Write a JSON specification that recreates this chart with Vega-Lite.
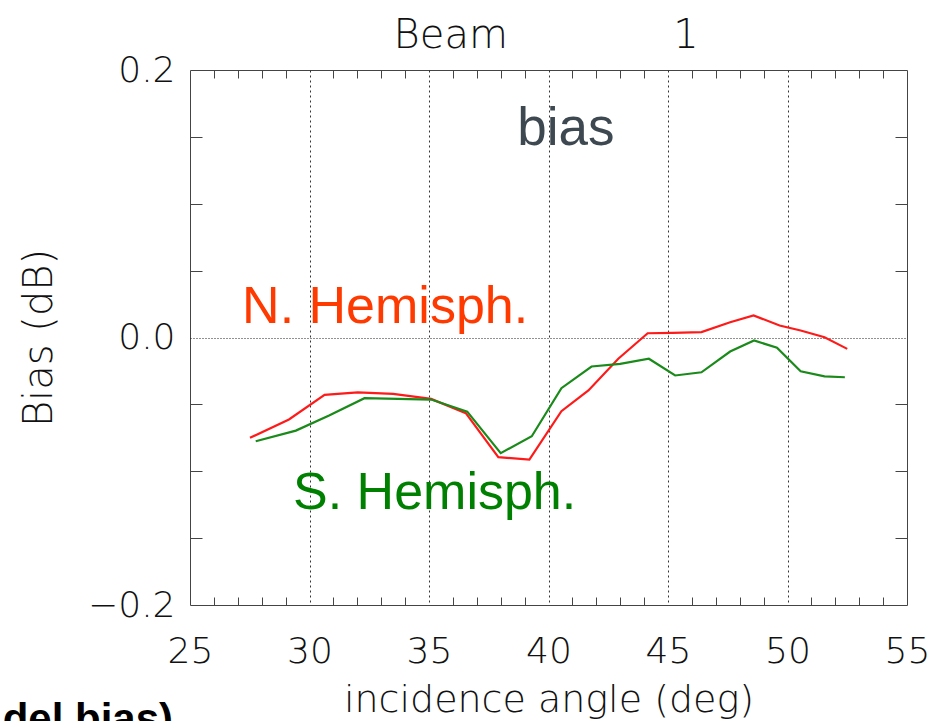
{
  "$schema": "https://vega.github.io/schema/vega-lite/v6.json",
  "autosize": "none",
  "width": 717,
  "height": 535,
  "padding": {"left": 190, "top": 70, "right": 27, "bottom": 116},
  "background": "white",
  "config": {
    "view": {"stroke": "#444444", "strokeWidth": 1},
    "axis": {"domain": false, "labelOverlap": false, "labelFlush": false}
  },
  "layer": [
    {
      "data": {
        "values": [
          {"angle": 27.51, "bias": -0.075, "hemisphere": "N"},
          {"angle": 29.14, "bias": -0.0613, "hemisphere": "N"},
          {"angle": 30.63, "bias": -0.0429, "hemisphere": "N"},
          {"angle": 32.02, "bias": -0.0411, "hemisphere": "N"},
          {"angle": 33.5, "bias": -0.0421, "hemisphere": "N"},
          {"angle": 35.09, "bias": -0.0459, "hemisphere": "N"},
          {"angle": 36.54, "bias": -0.0566, "hemisphere": "N"},
          {"angle": 37.9, "bias": -0.0895, "hemisphere": "N"},
          {"angle": 39.2, "bias": -0.0913, "hemisphere": "N"},
          {"angle": 40.54, "bias": -0.0551, "hemisphere": "N"},
          {"angle": 41.67, "bias": -0.0396, "hemisphere": "N"},
          {"angle": 42.92, "bias": -0.0159, "hemisphere": "N"},
          {"angle": 44.15, "bias": 0.0032, "hemisphere": "N"},
          {"angle": 45.2, "bias": 0.0035, "hemisphere": "N"},
          {"angle": 46.4, "bias": 0.004, "hemisphere": "N"},
          {"angle": 47.6, "bias": 0.0114, "hemisphere": "N"},
          {"angle": 48.58, "bias": 0.0165, "hemisphere": "N"},
          {"angle": 49.67, "bias": 0.009, "hemisphere": "N"},
          {"angle": 50.55, "bias": 0.0052, "hemisphere": "N"},
          {"angle": 51.55, "bias": 0.0002, "hemisphere": "N"},
          {"angle": 52.5, "bias": -0.0085, "hemisphere": "N"},
          {"angle": 27.75, "bias": -0.0776, "hemisphere": "S"},
          {"angle": 29.43, "bias": -0.0696, "hemisphere": "S"},
          {"angle": 30.82, "bias": -0.0583, "hemisphere": "S"},
          {"angle": 32.3, "bias": -0.0454, "hemisphere": "S"},
          {"angle": 33.7, "bias": -0.0459, "hemisphere": "S"},
          {"angle": 35.09, "bias": -0.0464, "hemisphere": "S"},
          {"angle": 36.6, "bias": -0.0554, "hemisphere": "S"},
          {"angle": 38.0, "bias": -0.0865, "hemisphere": "S"},
          {"angle": 39.3, "bias": -0.0738, "hemisphere": "S"},
          {"angle": 40.54, "bias": -0.0379, "hemisphere": "S"},
          {"angle": 41.8, "bias": -0.0217, "hemisphere": "S"},
          {"angle": 43.0, "bias": -0.0197, "hemisphere": "S"},
          {"angle": 44.2, "bias": -0.0159, "hemisphere": "S"},
          {"angle": 45.3, "bias": -0.0284, "hemisphere": "S"},
          {"angle": 46.4, "bias": -0.026, "hemisphere": "S"},
          {"angle": 47.6, "bias": -0.0105, "hemisphere": "S"},
          {"angle": 48.6, "bias": -0.0022, "hemisphere": "S"},
          {"angle": 49.56, "bias": -0.0077, "hemisphere": "S"},
          {"angle": 50.55, "bias": -0.0252, "hemisphere": "S"},
          {"angle": 51.55, "bias": -0.029, "hemisphere": "S"},
          {"angle": 52.4, "bias": -0.0297, "hemisphere": "S"}
        ]
      },
      "mark": {"type": "line", "strokeWidth": 2.2, "clip": true},
      "encoding": {
        "x": {
          "field": "angle", "type": "quantitative",
          "scale": {"domain": [25, 55], "nice": false, "zero": false},
          "axis": {
            "orient": "bottom",
            "values": [25,26,27,28,29,30,31,32,33,34,35,36,37,38,39,40,41,42,43,44,45,46,47,48,49,50,51,52,53,54,55],
            "format": "d",
            "labelExpr": "datum.value % 5 === 0 ? datum.label : ''",
            "labelFont": "DejaVu Sans", "labelFontWeight": 200, "labelFontSize": 36, "labelColor": "#111111",
            "labelPadding": 37,
            "tickSize": -8, "tickColor": "#444444", "tickWidth": 1,
            "tickOpacity": {"condition": {"test": "datum.value % 5 === 0", "value": 0}, "value": 1},
            "grid": true, "gridColor": "#333333", "gridDash": [2, 3], "gridWidth": 1,
            "gridOpacity": {"condition": {"test": "datum.value % 5 === 0 && datum.value > 25 && datum.value < 55", "value": 1}, "value": 0},
            "title": "incidence angle (deg)",
            "titleFont": "DejaVu Sans", "titleFontWeight": 200, "titleFontSize": 38, "titleColor": "#111111",
            "titlePadding": 12
          }
        },
        "y": {
          "field": "bias", "type": "quantitative",
          "scale": {"domain": [-0.2, 0.2], "nice": false, "zero": false},
          "axis": {
            "orient": "left",
            "values": [-0.2, -0.15, -0.1, -0.05, 0, 0.05, 0.1, 0.15, 0.2],
            "format": ".1f",
            "labelExpr": "abs(datum.value) > 0.19 || abs(datum.value) < 0.001 ? datum.label : ''",
            "labelFont": "DejaVu Sans", "labelFontWeight": 200, "labelFontSize": 36, "labelColor": "#111111",
            "labelPadding": 27,
            "tickSize": -12, "tickColor": "#444444", "tickWidth": 1,
            "tickOpacity": {"condition": {"test": "abs(datum.value) < 0.001 || abs(datum.value) > 0.19", "value": 0}, "value": 1},
            "grid": true, "gridColor": "#222222", "gridDash": [1, 2], "gridWidth": 1,
            "gridOpacity": {"condition": {"test": "abs(datum.value) < 0.001", "value": 1}, "value": 0},
            "title": "Bias (dB)",
            "titleFont": "DejaVu Sans", "titleFontWeight": 200, "titleFontSize": 40, "titleColor": "#111111",
            "titlePadding": 28
          }
        },
        "color": {
          "field": "hemisphere", "type": "nominal",
          "scale": {"domain": ["N", "S"], "range": ["#ff1a1a", "#1a8a1a"]},
          "legend": null
        }
      }
    },
    {
      "data": {"values": [{"angle": 40.73, "bias": 0.1436, "label": "bias"}]},
      "mark": {"type": "text", "font": "Liberation Sans", "fontSize": 53, "color": "#3d4850", "align": "center", "baseline": "alphabetic"},
      "encoding": {
        "x": {
          "field": "angle", "type": "quantitative",
          "axis": {
            "orient": "top",
            "values": [25,26,27,28,29,30,31,32,33,34,35,36,37,38,39,40,41,42,43,44,45,46,47,48,49,50,51,52,53,54,55],
            "labels": false, "grid": false, "title": null,
            "tickSize": -8, "tickColor": "#444444", "tickWidth": 1,
            "tickOpacity": {"condition": {"test": "datum.value % 5 === 0", "value": 0}, "value": 1}
          }
        },
        "y": {
          "field": "bias", "type": "quantitative",
          "axis": {
            "orient": "right",
            "values": [-0.2, -0.15, -0.1, -0.05, 0, 0.05, 0.1, 0.15, 0.2],
            "labels": false, "grid": false, "title": null,
            "tickSize": -12, "tickColor": "#444444", "tickWidth": 1,
            "tickOpacity": {"condition": {"test": "abs(datum.value) < 0.001 || abs(datum.value) > 0.19", "value": 0}, "value": 1}
          }
        },
        "text": {"field": "label"}
      }
    },
    {
      "data": {"values": [{"angle": 39.9, "bias": 0.2162, "label": "Beam\u00a0\u00a0\u00a0\u00a0\u00a0\u00a0\u00a0\u00a0\u00a0\u00a0\u00a0\u00a0\u00a01"}]},
      "mark": {"type": "text", "font": "DejaVu Sans", "fontWeight": 200, "fontSize": 40, "color": "#111111", "align": "center", "baseline": "alphabetic"},
      "encoding": {
        "x": {"field": "angle", "type": "quantitative", "axis": null},
        "y": {"field": "bias", "type": "quantitative", "axis": null},
        "text": {"field": "label"}
      }
    },
    {
      "data": {"values": [{"angle": 27.18, "bias": 0.0105, "label": "N. Hemisph."}]},
      "mark": {"type": "text", "font": "Liberation Sans", "fontSize": 52, "color": "#ff3a00", "align": "left", "baseline": "alphabetic"},
      "encoding": {
        "x": {"field": "angle", "type": "quantitative", "axis": null},
        "y": {"field": "bias", "type": "quantitative", "axis": null},
        "text": {"field": "label"}
      }
    },
    {
      "data": {"values": [{"angle": 29.31, "bias": -0.1279, "label": "S. Hemisph."}]},
      "mark": {"type": "text", "font": "Liberation Sans", "fontSize": 52, "color": "#008000", "align": "left", "baseline": "alphabetic"},
      "encoding": {
        "x": {"field": "angle", "type": "quantitative", "axis": null},
        "y": {"field": "bias", "type": "quantitative", "axis": null},
        "text": {"field": "label"}
      }
    },
    {
      "data": {"values": [{"angle": 24.29, "bias": -0.2955, "label": "del bias)"}]},
      "mark": {"type": "text", "font": "Liberation Sans", "fontWeight": "bold", "fontSize": 42, "color": "#000000", "align": "right", "baseline": "alphabetic"},
      "encoding": {
        "x": {"field": "angle", "type": "quantitative", "axis": null},
        "y": {"field": "bias", "type": "quantitative", "axis": null},
        "text": {"field": "label"}
      }
    }
  ],
  "resolve": {"axis": {"x": "independent", "y": "independent"}}
}
